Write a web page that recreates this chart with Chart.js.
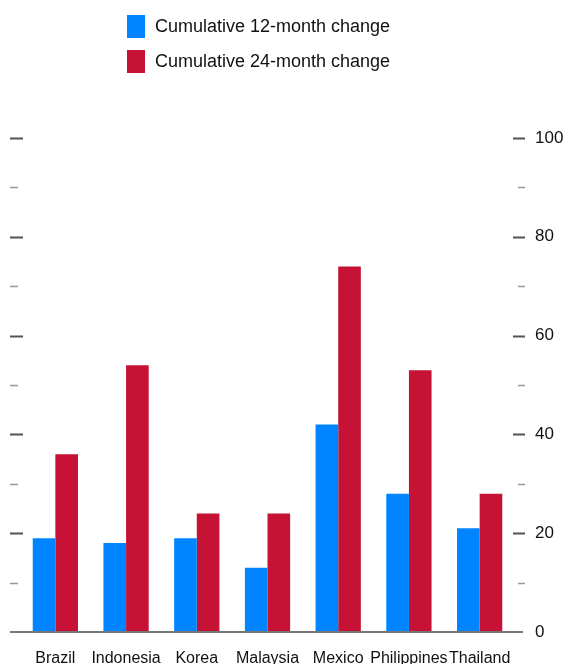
<!DOCTYPE html>
<html>
<head>
<meta charset="utf-8">
<script src="https://cdn.jsdelivr.net/npm/chart.js@4.4.0/dist/chart.umd.min.js"></script>
<style>
  html, body { margin: 0; padding: 0; background: #fff; }
  #wrap { position: relative; width: 566px; height: 664px; }
  #legend {
    position: absolute; left: 127px; top: 14px;
    font: 18px "Liberation Sans", Arial, sans-serif; color: #111;
  }
  #legend .item { display: flex; align-items: center; height: 24px; margin-bottom: 11px; }
  #legend .swatch { width: 18px; height: 23px; margin-right: 10px; }
</style>
</head>
<body>
<div id="wrap">
  <canvas id="chart" width="566" height="664"></canvas>
  <div id="legend"></div>
</div>
<script>
const countries = ["Brazil", "Indonesia", "Korea", "Malaysia", "Mexico", "Philippines", "Thailand"];
const change12 = [19, 18, 19, 13, 42, 28, 21];
const change24 = [36, 54, 24, 24, 74, 53, 28];
const yMax = 100;
const majorStep = 20;
const minorStep = 10;

const FONT = '"Liberation Sans", Arial, sans-serif';

// tick marks on both sides plus the zero line, drawn off the y scale
const axisMarks = {
  id: 'axisMarks',
  afterDraw(chart) {
    const { ctx, chartArea: area, scales: { y } } = chart;
    ctx.save();
    for (let v = minorStep; v <= yMax; v += minorStep) {
      const py = Math.round(y.getPixelForValue(v)) + 0.5;
      const major = v % majorStep === 0;
      ctx.strokeStyle = major ? '#555' : '#999';
      ctx.lineWidth = major ? 2 : 1.5;
      ctx.beginPath();
      ctx.moveTo(area.left - 10, py);
      ctx.lineTo(area.left + (major ? 3 : -2), py);
      ctx.moveTo(area.right - (major ? 2 : -3), py);
      ctx.lineTo(area.right + 10, py);
      ctx.stroke();
    }
    const base = y.getPixelForValue(0);
    ctx.strokeStyle = '#777';
    ctx.lineWidth = 2;
    ctx.beginPath();
    ctx.moveTo(area.left - 10, base);
    ctx.lineTo(area.right + 8, base);
    ctx.stroke();
    ctx.restore();
  }
};

const chart = new Chart(document.getElementById('chart'), {
  type: 'bar',
  data: {
    labels: countries,
    datasets: [
      { label: 'Cumulative 12-month change', data: change12, backgroundColor: '#0084ff' },
      { label: 'Cumulative 24-month change', data: change24, backgroundColor: '#c51235' }
    ]
  },
  options: {
    responsive: false,
    animation: false,
    layout: { padding: { left: 20, top: 138, right: 0, bottom: 0 } },
    datasets: { bar: { barPercentage: 1, categoryPercentage: 0.64 } },
    plugins: {
      legend: { display: false },
      tooltip: { enabled: false }
    },
    scales: {
      x: {
        grid: { display: false },
        border: { display: false },
        ticks: {
          autoSkip: false, maxRotation: 0, padding: 9,
          color: '#111', font: { family: FONT, size: 16 }
        },
        afterFit(scale) { scale.height = 32; }
      },
      y: {
        position: 'right',
        min: 0, max: yMax,
        grid: { display: false, drawTicks: false },
        border: { display: false },
        ticks: {
          stepSize: majorStep, padding: 20,
          color: '#111', font: { family: FONT, size: 17 }
        },
        afterFit(scale) { scale.width = 51; }
      }
    }
  },
  plugins: [axisMarks]
});

// two-row legend above the plot
const legend = document.getElementById('legend');
chart.data.datasets.forEach(ds => {
  const item = document.createElement('div');
  item.className = 'item';
  const sw = document.createElement('span');
  sw.className = 'swatch';
  sw.style.background = ds.backgroundColor;
  const txt = document.createElement('span');
  txt.textContent = ds.label;
  item.append(sw, txt);
  legend.appendChild(item);
});
</script>
</body>
</html>
